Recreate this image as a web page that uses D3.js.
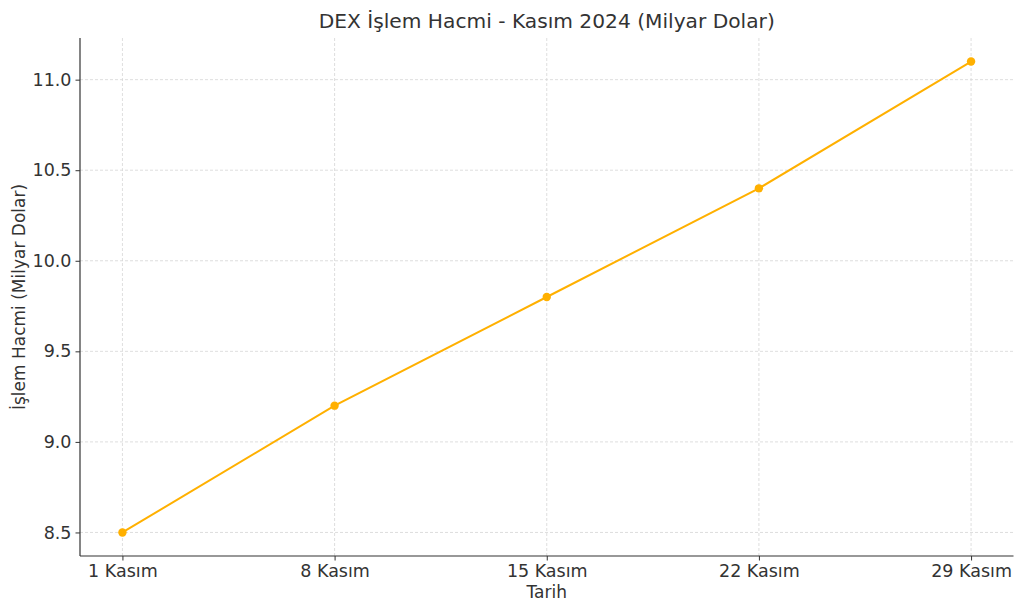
<!DOCTYPE html>
<html><head><meta charset="utf-8">
<script src="https://cdn.jsdelivr.net/npm/d3@7"></script>
<style>body{margin:0;background:#fff}svg{display:block;font-family:"DejaVu Sans",sans-serif}</style>
</head><body>
<script>
const categories = ["1 Kasım","8 Kasım","15 Kasım","22 Kasım","29 Kasım"];
const volumes = [8.5, 9.2, 9.8, 10.4, 11.1];
const yTicks = [8.5, 9.0, 9.5, 10.0, 10.5, 11.0];
const title = "DEX İşlem Hacmi - Kasım 2024 (Milyar Dolar)";
const xLabel = "Tarih";
const yLabel = "İşlem Hacmi (Milyar Dolar)";

const W = 1024, H = 612;
const m = {left: 80, right: 1013.5, top: 38, bottom: 556};
const svg = d3.select("body").append("svg").attr("width", W).attr("height", H);

const x = d3.scaleLinear().domain([-0.2, categories.length - 1 + 0.2]).range([m.left, m.right]);
const ext = d3.extent(volumes), pad = (ext[1]-ext[0])*0.05;
const y = d3.scaleLinear().domain([ext[0]-pad, ext[1]+pad]).range([m.bottom, m.top]);

// grid
const g = svg.append("g");
g.selectAll("line.vg").data(categories).join("line")
  .attr("x1",(d,i)=>x(i)).attr("x2",(d,i)=>x(i)).attr("y1",m.top).attr("y2",m.bottom)
  .attr("stroke","#d6d6d6").attr("stroke-width",0.8).attr("stroke-dasharray","3,2");
g.selectAll("line.hg").data(yTicks).join("line")
  .attr("x1",m.left).attr("x2",m.right).attr("y1",d=>y(d)).attr("y2",d=>y(d))
  .attr("stroke","#d6d6d6").attr("stroke-width",0.8).attr("stroke-dasharray","3,2");

// axes
const xAxis = d3.axisBottom(x).tickValues(d3.range(categories.length)).tickFormat(i=>categories[i]).tickSize(4.5).tickPadding(4);
const yAxis = d3.axisLeft(y).tickValues(yTicks).tickFormat(d3.format(".1f")).tickSize(4.5).tickPadding(4);
const gx = svg.append("g").attr("transform",`translate(0,${m.bottom})`).call(xAxis);
const gy = svg.append("g").attr("transform",`translate(${m.left},0)`).call(yAxis);
[gx, gy].forEach(a=>{
  a.select(".domain").remove();
  a.selectAll(".tick line").attr("stroke","#333").attr("stroke-width",1);
  a.selectAll(".tick text").attr("fill","#333").style("font-size","17.5px").style("font-family","DejaVu Sans");
});
svg.append("line").attr("x1",m.left).attr("x2",m.left).attr("y1",m.top).attr("y2",m.bottom).attr("stroke","#333").attr("stroke-width",1.2);
svg.append("line").attr("x1",m.left).attr("x2",m.right).attr("y1",m.bottom).attr("y2",m.bottom).attr("stroke","#333").attr("stroke-width",1.2);

// line
const line = d3.line().x((d,i)=>x(i)).y(d=>y(d));
svg.append("path").datum(volumes).attr("d",line).attr("fill","none").attr("stroke","#FFB000").attr("stroke-width",2);
svg.selectAll("circle.pt").data(volumes).join("circle")
  .attr("cx",(d,i)=>x(i)).attr("cy",d=>y(d)).attr("r",4.2).attr("fill","#FFB000");

// labels
svg.append("text").attr("x",(m.left+m.right)/2).attr("y",28).attr("text-anchor","middle")
  .attr("fill","#333").style("font-size","20.2px").text(title);
svg.append("text").attr("x",(m.left+m.right)/2).attr("y",598).attr("text-anchor","middle")
  .attr("fill","#333").style("font-size","17px").text(xLabel);
svg.append("text").attr("transform",`translate(25,${(m.top+m.bottom)/2}) rotate(-90)`).attr("text-anchor","middle")
  .attr("fill","#333").style("font-size","17px").text(yLabel);
</script>
</body></html>
